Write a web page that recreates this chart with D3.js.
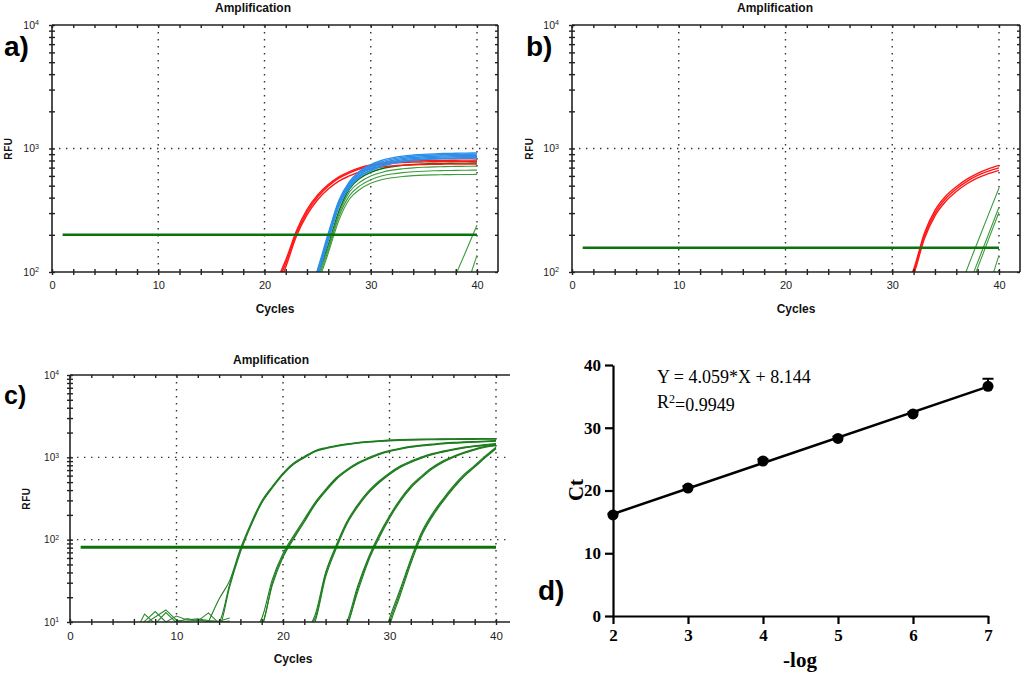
<!DOCTYPE html>
<html>
<head>
<meta charset="utf-8">
<script src="https://cdn.jsdelivr.net/npm/d3@7"></script>
<style>
  body { margin: 0; background: #fff; }
  svg { display: block; }
</style>
</head>
<body>
<div id="chart"></div>
<script>
// ---- shared ticks ----
var cycleTicks = [0, 10, 20, 30, 40];
var rfuTicksAB = [100, 1000, 10000];
var rfuTicksC = [10, 100, 1000, 10000];

// ---- a) RFU per cycle, each replicate starts at the given cycle ----
var redAStart = 21;
var redA = [
  [80,125,215,320,420,510,590,650,700,735,760,775,785,792,797,800,802,804,805,806],
  [75,118,205,305,405,495,575,635,685,718,742,758,768,775,779,782,784,786,787,788],
  [70,110,195,290,385,470,545,600,650,685,708,722,732,738,742,745,747,748,749,750]
];
var blueAStart = 24;
var blueA = [
  [60,105,205,380,540,660,740,800,840,868,885,897,905,911,915,918,920],
  [58,102,198,370,528,645,722,780,820,848,866,878,886,891,895,898,900],
  [57,100,194,362,515,630,705,762,800,828,846,858,866,871,875,878,880],
  [56,98,190,354,502,615,688,744,782,810,828,840,848,853,857,860,862],
  [55,95,185,345,490,600,670,725,765,792,810,822,830,836,840,843,845],
  [54,93,180,338,480,590,660,715,755,782,800,812,820,826,830,833,835]
];
var greenAStart = 24;
var greenA = [
  [55,95,165,310,470,575,640,685,712,730,742,750,755,758,760,762,763],
  [52,90,158,295,445,535,598,640,668,685,697,705,710,713,716,718,720],
  [50,86,150,280,415,500,558,598,622,638,648,655,660,663,665,667,668],
  [46,80,142,262,390,468,522,558,580,594,603,609,612,614,615,616,617]
];
var lateAStart = [38, 39];
var lateA = [[95,150,240], [75,137]];
var thresholdA = 200;

// ---- b) ----
var redBStart = 31;
var redB = [
  [72,105,205,315,410,490,565,630,685,731],
  [68,100,195,300,392,470,542,605,655,697],
  [65,95,185,285,372,448,518,578,625,666]
];
var greenBStart = [36, 37, 37, 39];
var greenB = [[60,105,175,290,479], [72,120,200,335], [64,108,182,305], [73,137]];
var thresholdB = 157;

// ---- c) five dilutions, three replicates each ----
var groupCStart = [13, 17, 22, 25, 29];
var groupC = [
  [[10,19,32,78,160,295,445,645,855,1025,1205,1310,1390,1460,1515,1555,1590,1620,1640,1655,1665,1672,1678,1683,1687,1690,1693,1695],
   [9,10,29,74,152,285,432,628,835,1005,1185,1290,1372,1442,1498,1540,1575,1605,1625,1640,1650,1657,1663,1667,1671,1674,1677,1679],
   [9,9,27,70,148,278,425,618,822,990,1170,1275,1355,1425,1480,1522,1556,1585,1605,1620,1630,1637,1643,1647,1651,1654,1657,1659]],
  [[8,11,33,68,112,178,282,408,565,715,860,985,1110,1210,1290,1360,1410,1450,1490,1520,1540,1560,1580,1600],
   [8,9,30,64,106,170,272,395,550,698,842,966,1090,1190,1270,1340,1390,1430,1470,1500,1520,1540,1560,1580],
   [7,9,28,61,102,164,264,385,538,684,828,952,1075,1175,1255,1325,1375,1415,1455,1485,1505,1525,1545,1565]],
  [[8,12,40,86,166,265,385,512,648,785,900,1010,1110,1190,1265,1330,1385,1430,1470],
   [8,11,38,82,160,256,374,498,632,768,882,992,1092,1172,1247,1312,1367,1412,1452],
   [7,10,35,78,154,248,364,486,618,752,866,976,1076,1156,1231,1296,1351,1396,1436]],
  [[7,10,27,60,114,195,310,450,592,752,902,1032,1152,1262,1360,1420],
   [7,9,25,57,108,188,300,436,576,735,884,1014,1134,1244,1342,1402],
   [6,9,23,54,103,181,290,424,562,720,868,998,1118,1228,1326,1386]],
  [[4,11,25,58,122,205,310,450,620,800,1040,1330],
   [4,10,23,55,116,196,298,434,600,778,1015,1300],
   [3,9,21,51,110,188,288,420,585,760,990,1270]]
];
var noiseCStart = 6;
var noiseC = [
  [7,12.5,9.5,13,9.8,11,10.3,12.9,9.6,10],
  [8,10.2,13.4,10,11.8,10.6,10.9,10.4,10.2,11.2],
  [6,9.5,11.5,14,10.5,10.2,10.6,10.1,9.9,10.3]
];
var thresholdC = 81;

// ---- d) standard curve ----
var logDil = [2, 3, 4, 5, 6, 7];
var ctMean = [16.1, 20.4, 24.7, 28.3, 32.2, 36.6];
var ctSd = [0.2, 0.3, 0.3, 0.3, 0.3, 1.2];
var fitSlope = 4.059, fitIntercept = 8.144;
var ctTicks = [0, 10, 20, 30, 40];

var svg = d3.select("#chart").append("svg")
  .attr("width", 1024)
  .attr("height", 676);

var sans = "'Liberation Sans', Arial, sans-serif";
var serif = "'Liberation Serif', 'Times New Roman', serif";

function toPoints(start, values) {
  return values.map(function(v, i) { return [start + i, v]; });
}

function ampPanel(p) {
  var x = d3.scaleLinear().domain([0, 40]).range([p.left, p.x40]);
  var y = d3.scaleLog().domain(p.yDomain).range([p.bottom, p.top]);
  var g = svg.append("g");

  svg.append("clipPath").attr("id", "clip-" + p.name)
    .append("rect")
    .attr("x", p.left).attr("y", p.top)
    .attr("width", p.right - p.left).attr("height", p.bottom - p.top);

  // dotted grid
  g.selectAll(".vgrid").data([10, 20, 30, 40]).enter().append("line")
    .attr("x1", d => x(d)).attr("x2", d => x(d))
    .attr("y1", p.top).attr("y2", p.bottom)
    .attr("stroke", "#333").attr("stroke-width", 1.4)
    .attr("stroke-dasharray", "1.4 5.6");
  g.selectAll(".hgrid").data(p.hGrid).enter().append("line")
    .attr("x1", p.left).attr("x2", p.right)
    .attr("y1", d => y(d)).attr("y2", d => y(d))
    .attr("stroke", "#333").attr("stroke-width", 1.4)
    .attr("stroke-dasharray", "1.4 5.6");

  // curves
  var smooth = d3.line()
    .x(d => x(d[0]))
    .y(d => y(d[1]))
    .curve(d3.curveMonotoneX);
  var straight = d3.line()
    .x(d => x(d[0]))
    .y(d => y(d[1]));
  var cg = g.append("g").attr("clip-path", "url(#clip-" + p.name + ")");
  p.series.forEach(function(s) {
    cg.append("path")
      .datum(toPoints(s.start, s.values))
      .attr("d", s.jagged ? straight : smooth)
      .attr("fill", "none")
      .attr("stroke", s.color)
      .attr("stroke-width", s.width);
  });

  // threshold
  cg.append("line")
    .attr("x1", x(1)).attr("x2", x(40))
    .attr("y1", y(p.threshold)).attr("y2", y(p.threshold))
    .attr("stroke", "#0a740a").attr("stroke-width", p.thWidth);

  // frame
  g.append("line").attr("x1", p.left).attr("x2", p.right).attr("y1", p.top).attr("y2", p.top)
    .attr("stroke", "#222").attr("stroke-width", 1.6);
  g.append("line").attr("x1", p.left).attr("x2", p.right).attr("y1", p.bottom).attr("y2", p.bottom)
    .attr("stroke", "#222").attr("stroke-width", 1.6);
  g.append("line").attr("x1", p.left).attr("x2", p.left).attr("y1", p.top).attr("y2", p.bottom)
    .attr("stroke", "#222").attr("stroke-width", 1.6);
  if (p.rightBorder) {
    g.append("line").attr("x1", p.right).attr("x2", p.right).attr("y1", p.top).attr("y2", p.bottom)
      .attr("stroke", "#222").attr("stroke-width", 1.6);
  }

  // small ticks crossing the axes
  var xMinor = d3.range(0, 41, 2);
  var tickAxes = [
    [d3.axisBottom(x).tickValues(xMinor).tickSize(3), p.bottom],
    [d3.axisTop(x).tickValues(xMinor).tickSize(3), p.bottom],
    [d3.axisBottom(x).tickValues(xMinor).tickSize(3), p.top]
  ];
  tickAxes.forEach(function(t) {
    var a = g.append("g").attr("transform", "translate(0," + t[1] + ")")
      .call(t[0].tickFormat(""));
    a.select(".domain").remove();
    a.selectAll("line").attr("stroke", "#222").attr("stroke-width", 1.4);
  });
  var yAll = y.ticks();
  var yAxes = [
    [d3.axisLeft(y).tickValues(yAll).tickSize(3), p.left],
    [d3.axisRight(y).tickValues(yAll).tickSize(3), p.left]
  ];
  if (p.rightBorder) yAxes.push([d3.axisLeft(y).tickValues(yAll).tickSize(3), p.right]);
  yAxes.forEach(function(t) {
    var a = g.append("g").attr("transform", "translate(" + t[1] + ",0)")
      .call(t[0].tickFormat(""));
    a.select(".domain").remove();
    a.selectAll("line").attr("stroke", "#222").attr("stroke-width", 1.4);
  });

  // tick labels
  var xl = g.append("g").attr("transform", "translate(0," + p.bottom + ")")
    .call(d3.axisBottom(x).tickValues(cycleTicks).tickSize(0).tickPadding(p.xPad));
  xl.select(".domain").remove();
  xl.selectAll("text").attr("font-family", sans).attr("font-size", p.xFont).attr("fill", "#222");

  var yl = g.append("g").attr("transform", "translate(" + p.left + ",0)")
    .call(d3.axisLeft(y).tickValues(p.yTicks).tickSize(0).tickPadding(p.yPad).tickFormat(() => "10"));
  yl.select(".domain").remove();
  yl.selectAll("text").attr("font-family", sans).attr("font-size", p.yFont).attr("fill", "#222")
    .append("tspan").attr("dy", "-0.5em").attr("font-size", p.yFont * 0.68)
    .text(d => Math.round(Math.log10(d)));

  // titles
  g.append("text").attr("x", p.titleX).attr("y", p.titleY)
    .attr("text-anchor", "middle").attr("font-family", sans)
    .attr("font-weight", "bold").attr("font-size", 12).attr("fill", "#111")
    .text("Amplification");
  g.append("text").attr("x", (p.left + p.right) / 2 + p.cycShift).attr("y", p.cyclesY)
    .attr("text-anchor", "middle").attr("font-family", sans)
    .attr("font-weight", "bold").attr("font-size", 12).attr("fill", "#111")
    .text("Cycles");
  g.append("text")
    .attr("transform", "translate(" + p.rfuX + "," + ((p.top + p.bottom) / 2) + ") rotate(-90)")
    .attr("text-anchor", "middle").attr("dy", "0.35em").attr("font-family", sans)
    .attr("font-weight", "bold").attr("font-size", 10).attr("letter-spacing", 0.6).attr("fill", "#111")
    .text("RFU");
  g.append("text").attr("x", p.labelX).attr("y", p.labelY)
    .attr("font-family", sans).attr("font-weight", "bold")
    .attr("font-size", p.labelSize).attr("fill", "#000")
    .text(p.label);
}

// series lists
var seriesA = [];
greenA.forEach(function(v, i) {
  seriesA.push({start: greenAStart, values: v, color: i === 0 ? "#0a700a" : "#3d9b3d", width: i === 0 ? 1.4 : 1.1});
});
redA.forEach(function(v) { seriesA.push({start: redAStart, values: v, color: "#ff1616", width: 1.4}); });
blueA.forEach(function(v) { seriesA.push({start: blueAStart, values: v, color: "#2e8fe8", width: 1.4}); });
lateA.forEach(function(v, i) { seriesA.push({start: lateAStart[i], values: v, color: "#3d9b3d", width: 1.1}); });

var seriesB = [];
redB.forEach(function(v) { seriesB.push({start: redBStart, values: v, color: "#ff1616", width: 1.4}); });
greenB.forEach(function(v, i) { seriesB.push({start: greenBStart[i], values: v, color: "#3d9b3d", width: 1.1}); });

var seriesC = [];
noiseC.forEach(function(v) { seriesC.push({start: noiseCStart, values: v, color: "#2f8a2f", width: 1.1, jagged: true}); });
groupC.forEach(function(reps, gi) {
  reps.forEach(function(v) { seriesC.push({start: groupCStart[gi], values: v, color: "#1f7d1f", width: 1.1}); });
});

ampPanel({
  name: "a", left: 52, x40: 477, right: 498, top: 25, bottom: 272,
  yDomain: [100, 10000], yTicks: rfuTicksAB, hGrid: [1000],
  series: seriesA, threshold: thresholdA, thWidth: 2.6, rightBorder: true,
  xPad: 9, xFont: 11, yPad: 13, yFont: 10.5,
  titleX: 253, titleY: 12, cyclesY: 313, cycShift: 0, rfuX: 8,
  label: "a)", labelX: 4, labelY: 56, labelSize: 28
});
ampPanel({
  name: "b", left: 572, x40: 999, right: 1020, top: 25, bottom: 272,
  yDomain: [100, 10000], yTicks: rfuTicksAB, hGrid: [1000],
  series: seriesB, threshold: thresholdB, thWidth: 2.6, rightBorder: true,
  xPad: 9, xFont: 11, yPad: 13, yFont: 10.5,
  titleX: 775, titleY: 12, cyclesY: 313, cycShift: 0, rfuX: 529,
  label: "b)", labelX: 526, labelY: 56, labelSize: 28
});
ampPanel({
  name: "c", left: 70, x40: 496, right: 510, top: 375, bottom: 622,
  yDomain: [10, 10000], yTicks: rfuTicksC, hGrid: [100, 1000],
  series: seriesC, threshold: thresholdC, thWidth: 3, rightBorder: false,
  xPad: 10, xFont: 11.5, yPad: 11, yFont: 10,
  titleX: 271, titleY: 364, cyclesY: 663, cycShift: 3, rfuX: 26,
  label: "c)", labelX: 4, labelY: 404, labelSize: 25
});

// ---- d) ----
var xd = d3.scaleLinear().domain([2, 7]).range([613, 988]);
var yd = d3.scaleLinear().domain([0, 40]).range([616, 365]);
var gd = svg.append("g");

var xAxisD = gd.append("g").attr("transform", "translate(0,616)")
  .call(d3.axisBottom(xd).tickValues(logDil).tickFormat(d3.format("d"))
    .tickSize(8).tickSizeOuter(0).tickPadding(5));
var yAxisD = gd.append("g").attr("transform", "translate(613,0)")
  .call(d3.axisLeft(yd).tickValues(ctTicks).tickFormat(d3.format("d"))
    .tickSize(8).tickSizeOuter(0).tickPadding(4));
[xAxisD, yAxisD].forEach(function(a) {
  a.selectAll("path, line").attr("stroke", "#000").attr("stroke-width", 2.2);
  a.selectAll("text").attr("font-family", serif).attr("font-weight", "bold")
    .attr("font-size", 17).attr("fill", "#000");
});

gd.append("line")
  .attr("x1", xd(logDil[0])).attr("x2", xd(logDil[logDil.length - 1]))
  .attr("y1", yd(fitSlope * logDil[0] + fitIntercept))
  .attr("y2", yd(fitSlope * logDil[logDil.length - 1] + fitIntercept))
  .attr("stroke", "#000").attr("stroke-width", 2.5);

var pts = logDil.map((d, i) => ({x: d, y: ctMean[i], sd: ctSd[i]}));
gd.selectAll(".err").data(pts).enter().append("path")
  .attr("d", d => "M" + xd(d.x) + "," + yd(d.y) + "V" + yd(d.y + d.sd) +
    "M" + (xd(d.x) - 5.5) + "," + yd(d.y + d.sd) + "H" + (xd(d.x) + 5.5))
  .attr("fill", "none").attr("stroke", "#000").attr("stroke-width", 2);
gd.selectAll(".pt").data(pts).enter().append("circle")
  .attr("cx", d => xd(d.x)).attr("cy", d => yd(d.y)).attr("r", 5.5)
  .attr("fill", "#000");

gd.append("text").attr("x", 657).attr("y", 383)
  .attr("font-family", serif).attr("font-size", 18).attr("fill", "#000")
  .text("Y = " + fitSlope + "*X + " + fitIntercept);
var r2 = gd.append("text").attr("x", 657).attr("y", 408)
  .attr("font-family", serif).attr("font-size", 18).attr("fill", "#000");
r2.append("tspan").text("R");
r2.append("tspan").attr("dy", "-0.45em").attr("font-size", 12).text("2");
r2.append("tspan").attr("dy", "0.45em").text("=0.9949");

gd.append("text").attr("x", 800).attr("y", 667)
  .attr("text-anchor", "middle").attr("font-family", serif)
  .attr("font-weight", "bold").attr("font-size", 21).text("-log");
gd.append("text")
  .attr("transform", "translate(583,490) rotate(-90)")
  .attr("text-anchor", "middle").attr("font-family", serif)
  .attr("font-weight", "bold").attr("font-size", 21).text("Ct");
gd.append("text").attr("x", 538).attr("y", 600)
  .attr("font-family", sans).attr("font-weight", "bold")
  .attr("font-size", 28).text("d)");
</script>
</body>
</html>
